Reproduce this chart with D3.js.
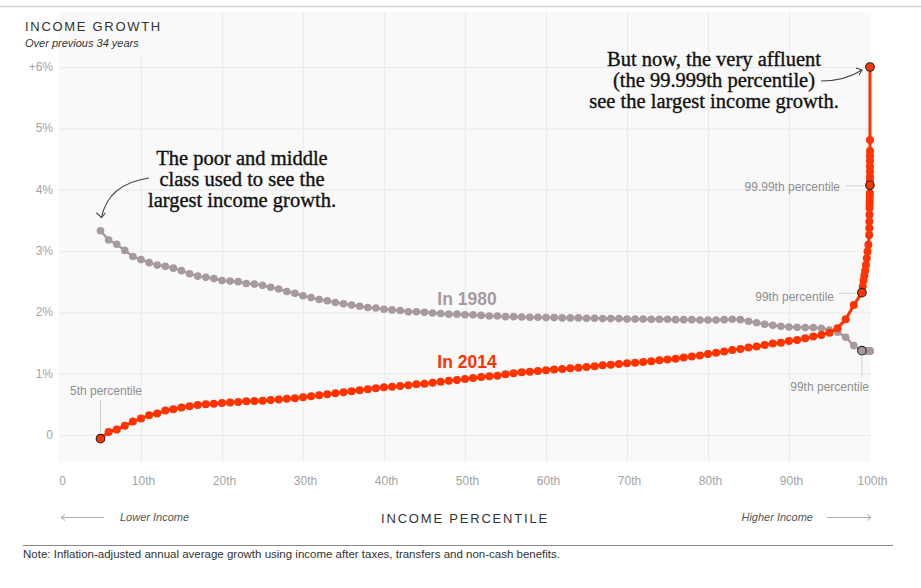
<!DOCTYPE html>
<html><head><meta charset="utf-8">
<script src="https://cdn.jsdelivr.net/npm/d3@7"></script>
<style>
html,body{margin:0;padding:0;background:#fff;}
svg{display:block;font-family:"Liberation Sans",Arial,sans-serif;}
</style></head>
<body>
<svg id="chart" width="921" height="588"></svg>
<script>
// ---- data ----
const percentiles = [5,6,7,8,9,10,11,12,13,14,15,16,17,18,19,20,21,22,23,24,25,26,27,28,29,30,31,32,33,34,35,36,37,38,39,40,41,42,43,44,45,46,47,48,49,50,51,52,53,54,55,56,57,58,59,60,61,62,63,64,65,66,67,68,69,70,71,72,73,74,75,76,77,78,79,80,81,82,83,84,85,86,87,88,89,90,91,92,93,94,95,96,97,98,99,
  99.1,99.2,99.3,99.4,99.5,99.6,99.7,99.8,99.9,
  99.91,99.92,99.93,99.94,99.95,99.96,99.97,99.98,99.99,
  99.991,99.992,99.993,99.994,99.995,99.996,99.997,99.998,99.999];

const growth1980 = [3.33,3.18,3.11,3.01,2.91,2.86,2.81,2.77,2.75,2.72,2.68,2.63,2.59,2.57,2.55,2.52,2.51,2.50,2.47,2.46,2.44,2.41,2.38,2.34,2.31,2.27,2.24,2.21,2.19,2.16,2.14,2.12,2.10,2.08,2.07,2.05,2.04,2.03,2.01,2.01,2.00,1.99,1.98,1.97,1.97,1.96,1.96,1.95,1.94,1.94,1.93,1.93,1.925,1.919,1.919,1.914,1.914,1.909,1.909,1.909,1.903,1.903,1.898,1.898,1.898,1.892,1.892,1.892,1.887,1.887,1.887,1.881,1.881,1.881,1.876,1.876,1.876,1.881,1.887,1.881,1.855,1.83,1.806,1.789,1.773,1.762,1.757,1.751,1.751,1.740,1.713,1.675,1.594,1.457,1.375,
  1.375,1.372,1.372,1.37,1.37,1.37,1.37,1.37,1.37,
  1.37,1.37,1.37,1.37,1.37,1.37,1.37,1.37,1.37,
  1.37,1.37,1.37,1.37,1.37,1.37,1.37,1.37,1.37];

const growth2014 = [-0.06,0.05,0.09,0.15,0.22,0.27,0.32,0.35,0.40,0.42,0.45,0.47,0.49,0.50,0.51,0.52,0.53,0.54,0.55,0.555,0.56,0.57,0.58,0.59,0.60,0.615,0.63,0.648,0.664,0.68,0.697,0.713,0.729,0.746,0.762,0.778,0.788,0.799,0.81,0.827,0.837,0.853,0.87,0.886,0.897,0.914,0.93,0.946,0.957,0.968,0.99,1.006,1.022,1.033,1.044,1.055,1.066,1.077,1.087,1.098,1.109,1.12,1.136,1.147,1.158,1.169,1.18,1.191,1.202,1.218,1.229,1.245,1.262,1.278,1.295,1.32,1.34,1.36,1.387,1.403,1.425,1.441,1.468,1.49,1.506,1.533,1.55,1.577,1.604,1.631,1.669,1.741,1.887,2.121,2.321,
  2.42,2.52,2.60,2.68,2.77,2.88,2.99,3.10,3.26,
  3.37,3.48,3.59,3.70,3.76,3.81,3.88,3.94,4.07,
  4.14,4.21,4.30,4.38,4.47,4.55,4.63,4.81,6.0];

const xTickValues = [0,10,20,30,40,50,60,70,80,90,100];
const xTickLabels = ["0","10th","20th","30th","40th","50th","60th","70th","80th","90th","100th"];
const yTickValues = [0,1,2,3,4,5,6];
const yTickLabels = ["0","1%","2%","3%","4%","5%","+6%"];

// highlighted points
const hi2014 = [5, 99, 99.99, 99.999];
const hi1980 = [99];

// ---- chart ----
const svg = d3.select("#chart");
const COL_RED = "#ff3300", COL_GRAY = "#a79a9f";
const x = d3.scaleLinear().domain([0,100]).range([60,870]);
const y = d3.scaleLinear().domain([0,6]).range([435,67]);
const plotTop = 12, plotBottom = 462, plotLeft = 59, plotRight = 871;

// top rule
svg.append("line").attr("x1",0).attr("x2",921).attr("y1",6.5).attr("y2",6.5)
  .attr("stroke","#d4d4d4").attr("stroke-width",1.5);

// plot background
svg.append("rect").attr("x",plotLeft).attr("y",plotTop)
  .attr("width",plotRight-plotLeft).attr("height",plotBottom-plotTop).attr("fill","#f9f9f9");

// vertical grid
const gx = svg.append("g").attr("transform",`translate(0,${plotBottom})`)
  .call(d3.axisBottom(x).tickValues(xTickValues.slice(1,10)).tickSize(-(plotBottom-plotTop)).tickFormat(""));
gx.select(".domain").remove();
gx.selectAll(".tick line").attr("stroke","#ececec").attr("stroke-width",1.2);

// horizontal grid
const gy = svg.append("g").attr("transform",`translate(${plotLeft},0)`)
  .call(d3.axisRight(y).tickValues(yTickValues).tickSize(plotRight-plotLeft).tickFormat(""));
gy.select(".domain").remove();
gy.selectAll(".tick line").attr("stroke","#ececec").attr("stroke-width",1.2);

// cover behind title
svg.append("rect").attr("x",plotLeft).attr("y",plotTop).attr("width",106).attr("height",46).attr("fill","#f9f9f9");

// y tick labels
const yAx = svg.append("g").attr("transform",`translate(53,0)`)
  .call(d3.axisLeft(y).tickValues(yTickValues).tickSize(0).tickPadding(0).tickFormat((d,i)=>yTickLabels[i]));
yAx.select(".domain").remove();
yAx.selectAll("text").attr("fill","#a3a3a3").attr("font-size",12)
  .attr("font-family","'Liberation Sans',Arial,sans-serif").attr("dy","0.3em");

// x tick labels
const xAx = svg.append("g").attr("transform",`translate(2,476)`)
  .call(d3.axisBottom(x).tickValues(xTickValues).tickSize(0).tickPadding(0).tickFormat((d,i)=>xTickLabels[i]));
xAx.select(".domain").remove();
xAx.selectAll("text").attr("fill","#a3a3a3").attr("font-size",12)
  .attr("font-family","'Liberation Sans',Arial,sans-serif");

// title
svg.append("text").attr("x",25).attr("y",31).text("INCOME GROWTH")
  .attr("font-size",13).attr("letter-spacing","1.7px").attr("fill","#333");
svg.append("text").attr("x",25).attr("y",47).text("Over previous 34 years")
  .attr("font-size",11).attr("font-style","italic").attr("fill","#333");

// series
const d1980 = percentiles.map((p,i)=>({p, v:growth1980[i]}));
const d2014 = percentiles.map((p,i)=>({p, v:growth2014[i]}));
const line = d3.line().x(d=>x(d.p)).y(d=>y(d.v));

svg.append("path").datum(d1980).attr("d",line).attr("fill","none").attr("stroke",COL_GRAY).attr("stroke-width",2.5);
svg.append("g").selectAll("circle").data(d1980).join("circle")
  .attr("cx",d=>x(d.p)).attr("cy",d=>y(d.v)).attr("r",3.8).attr("fill",COL_GRAY);

svg.append("path").datum(d2014).attr("d",line).attr("fill","none").attr("stroke",COL_RED).attr("stroke-width",3);
svg.append("g").selectAll("circle").data(d2014).join("circle")
  .attr("cx",d=>x(d.p)).attr("cy",d=>y(d.v)).attr("r",4).attr("fill",COL_RED);

// highlighted circles
svg.append("g").selectAll("circle").data(d1980.filter(d=>hi1980.includes(d.p))).join("circle")
  .attr("cx",d=>x(d.p)).attr("cy",d=>y(d.v)).attr("r",4.3).attr("fill",COL_GRAY)
  .attr("stroke","#222").attr("stroke-width",1.1);
svg.append("g").selectAll("circle").data(d2014.filter(d=>hi2014.includes(d.p))).join("circle")
  .attr("cx",d=>x(d.p)).attr("cy",d=>y(d.v)).attr("r",4.3).attr("fill",COL_RED)
  .attr("stroke","#222").attr("stroke-width",1.1);

// series labels
svg.append("text").attr("x",467).attr("y",304.5).attr("text-anchor","middle").text("In 1980")
  .attr("font-size",17.5).attr("font-weight","bold").attr("fill",COL_GRAY);
svg.append("text").attr("x",467).attr("y",367.5).attr("text-anchor","middle").text("In 2014")
  .attr("font-size",17.5).attr("font-weight","bold").attr("fill",COL_RED);

// percentile labels
const lab = (tx,ty,anchor,txt)=>svg.append("text").attr("x",tx).attr("y",ty).attr("text-anchor",anchor)
  .text(txt).attr("font-size",12).attr("fill","#8e8e8e");
const pt = (arr,p)=>arr.find(d=>d.p===p);
const p5 = pt(d2014,5);
lab(70,395,"start","5th percentile");
svg.append("line").attr("x1",x(p5.p)).attr("x2",x(p5.p)).attr("y1",400).attr("y2",y(p5.v)-6).attr("stroke","#cfcfcf");
const p9999 = pt(d2014,99.99);
lab(840,191,"end","99.99th percentile");
svg.append("line").attr("x1",846).attr("x2",x(p9999.p)-6).attr("y1",y(p9999.v)+0.5).attr("y2",y(p9999.v)+0.5).attr("stroke","#cfcfcf");
const p99 = pt(d2014,99);
lab(834,301,"end","99th percentile");
svg.append("line").attr("x1",839).attr("x2",x(p99.p)-6).attr("y1",y(p99.v)+0.5).attr("y2",y(p99.v)+0.5).attr("stroke","#cfcfcf");
const g99 = pt(d1980,99);
lab(869,391,"end","99th percentile");
svg.append("line").attr("x1",x(g99.p)).attr("x2",x(g99.p)).attr("y1",y(g99.v)+6).attr("y2",377).attr("stroke","#cfcfcf");

// annotations
const serif = "'Liberation Serif','Times New Roman',serif";
const ann = (cx, y0, lines)=>{
  const t = svg.append("text").attr("text-anchor","middle").attr("font-family",serif)
    .attr("font-size",20.5).attr("fill","#111").attr("stroke","#111").attr("stroke-width",0.35);
  lines.forEach((s,i)=>t.append("tspan").attr("x",cx).attr("y",y0+i*21.2).text(s));
};
ann(242,164.5,["The poor and middle","class used to see the","largest income growth."]);
ann(714,66,["But now, the very affluent","(the 99.999th percentile)","see the largest income growth."]);

// annotation arrows
const g5 = pt(d1980,5);
const ax1 = x(g5.p), ay1 = y(g5.v)-13;
svg.append("path").attr("d",`M149,178 Q108,184 ${ax1+1},${ay1}`).attr("fill","none").attr("stroke","#444").attr("stroke-width",1.1);
svg.append("path").attr("d",`M${ax1-4},${ay1-5} L${ax1+1},${ay1} L${ax1+5},${ay1-5}`).attr("fill","none").attr("stroke","#444").attr("stroke-width",1.1);
const topPt = pt(d2014,99.999);
const ax2 = x(topPt.p)-8, ay2 = y(topPt.v)+3;
svg.append("path").attr("d",`M821,81 Q845,81 ${ax2},${ay2}`).attr("fill","none").attr("stroke","#444").attr("stroke-width",1.1);
svg.append("path").attr("d",`M${ax2-6},${ay2-2} L${ax2},${ay2} L${ax2-3},${ay2+5}`).attr("fill","none").attr("stroke","#444").attr("stroke-width",1.1);

// axis title and direction hints
svg.append("text").attr("x",465).attr("y",523).attr("text-anchor","middle").text("INCOME PERCENTILE")
  .attr("font-size",13).attr("letter-spacing","1.8px").attr("fill","#333");
svg.append("text").attr("x",120).attr("y",521).text("Lower Income")
  .attr("font-size",11).attr("font-style","italic").attr("fill","#555");
svg.append("text").attr("x",813).attr("y",521).attr("text-anchor","end").text("Higher Income")
  .attr("font-size",11).attr("font-style","italic").attr("fill","#555");
svg.append("line").attr("x1",61).attr("x2",104).attr("y1",517.5).attr("y2",517.5).attr("stroke","#aaa");
svg.append("path").attr("d","M65,514.5 L61,517.5 L65,520.5").attr("fill","none").attr("stroke","#aaa");
svg.append("line").attr("x1",827).attr("x2",871).attr("y1",517.5).attr("y2",517.5).attr("stroke","#aaa");
svg.append("path").attr("d","M867,514.5 L871,517.5 L867,520.5").attr("fill","none").attr("stroke","#aaa");

// note
svg.append("line").attr("x1",23).attr("x2",893).attr("y1",545.5).attr("y2",545.5).attr("stroke","#888");
svg.append("text").attr("x",23).attr("y",558).text("Note: Inflation-adjusted annual average growth using income after taxes, transfers and non-cash benefits.")
  .attr("font-size",11.5).attr("fill","#333");
</script>
</body></html>
